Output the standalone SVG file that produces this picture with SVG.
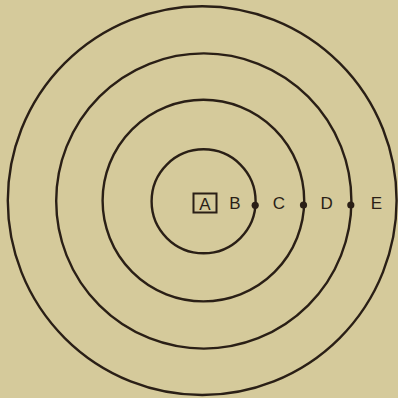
<svg xmlns="http://www.w3.org/2000/svg" width="398" height="398" viewBox="0 0 398 398">
<style>
.ring{fill:none;stroke:#2a1f16;stroke-width:2.4}
.dot{fill:#2a1f16}
.lbl{font-family:"Liberation Sans",Arial,sans-serif;font-size:17px;fill:#2a1f16;text-anchor:middle}
</style>
<rect width="398" height="398" fill="#d5ca9b"/>
<g id="rings">
<circle id="ring1" class="ring" cx="203.6" cy="201.3" r="52"/>
<circle id="ring2" class="ring" cx="203.4" cy="200.6" r="100.8"/>
<circle id="ring3" class="ring" cx="203.8" cy="201" r="147.6"/>
<circle id="ring4" class="ring" cx="202.2" cy="200.6" r="194.4"/>
</g>
<g id="A"><rect x="193.5" y="193.5" width="23" height="19" fill="none" stroke="#2a1f16" stroke-width="2"/><text class="lbl" x="205" y="209.5">A</text></g>
<g id="B"><text class="lbl" x="235" y="208.5">B</text></g>
<g id="C"><text class="lbl" x="279" y="208.5">C</text></g>
<g id="D"><text class="lbl" x="326.7" y="208.5">D</text></g>
<g id="E"><text class="lbl" x="376.3" y="208.5">E</text></g>
<g id="dots">
<circle class="dot" cx="255.2" cy="205.3" r="3.6"/>
<circle class="dot" cx="303.5" cy="205" r="3.6"/>
<circle class="dot" cx="350.8" cy="205" r="3.6"/>
</g>
</svg>
